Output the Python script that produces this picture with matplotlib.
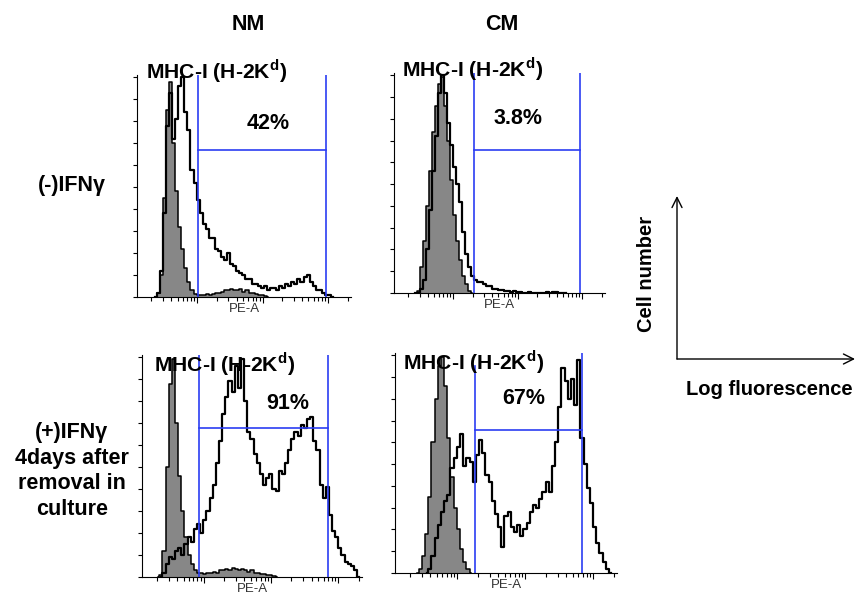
import numpy as np
import matplotlib.pyplot as plt

plt.rcParams['font.family'] = ['Liberation Sans', 'DejaVu Sans']

# histogram bins along log10(PE-A), equal spacing
bin_step = 0.0467

# top-left: NM, (-)IFNg
nm_neg_iso_start = 2.360
nm_neg_iso = [0, 2, 10, 45, 85, 98, 70, 48, 32, 22, 13, 7, 3, 1.5, 1, 1, 1, 1.5, 1, 1.5,
              2, 2, 2.5, 3, 3, 3.5, 3, 3, 3.5, 2.5, 3, 2, 2, 1.5, 1, 1, 0.5, 0]
nm_neg_start = 2.360
nm_neg = [0, 2, 12, 38, 78, 93, 72, 81, 96, 100, 84, 76, 58, 52, 44, 38, 33, 31, 27, 27,
          22, 21, 18, 17, 20, 15, 14, 12, 11, 10, 8, 8, 6, 6, 5, 4, 5, 3, 4, 4,
          3, 5, 4, 6, 5, 7, 6, 8, 7, 9, 10, 7, 5, 3, 3, 2, 1, 1, 0]

# top-right: CM, (-)IFNg
cm_neg_iso_start = 2.407
cm_neg_iso = [0, 1, 12, 24, 40, 56, 74, 86, 96, 99, 86, 70, 52, 36, 24, 15, 8, 4, 1, 0]
cm_neg_start = 2.407
cm_neg = [0, 0, 2, 6, 20, 38, 56, 72, 92, 100, 92, 78, 68, 58, 50, 42, 28, 18, 12, 8,
          6, 5, 5, 4, 3, 3, 2, 2, 1.5, 1.5, 1, 1, 0.5, 1, 0.5, 0.5, 0, 0, 0.5, 0,
          0, 0, 0, 0, 0.5, 0, 0.5, 0.5, 0, 0, 0]

# bottom-left: NM, (+)IFNg
nm_pos_iso_start = 2.314
nm_pos_iso = [0, 1, 12, 50, 88, 99, 70, 46, 30, 18, 10, 6, 3, 2, 2, 1.5, 2, 2, 2.5, 2,
              3, 3, 3.5, 3, 4, 3.5, 3, 3.5, 3, 2.5, 3, 2, 2, 1.5, 1.5, 1, 1, 0.5, 0]
nm_pos_start = 2.360
nm_pos = [0, 2, 6, 9, 8, 12, 13, 10, 15, 18, 16, 22, 24, 20, 26, 30, 36, 42, 52, 62,
          74, 82, 89, 84, 96, 86, 99, 80, 66, 63, 56, 52, 47, 42, 45, 47, 40, 39, 48, 47,
          52, 58, 63, 66, 64, 69, 68, 72, 73, 62, 58, 42, 36, 41, 28, 21, 18, 13, 10, 7,
          6, 5, 3, 0]

# bottom-right: CM, (+)IFNg
cm_pos_iso_start = 2.407
cm_pos_iso = [0, 2, 8, 18, 35, 60, 80, 95, 99, 86, 62, 44, 30, 20, 11, 5, 2, 0]
cm_pos_start = 2.547
cm_pos = [0, 2, 8, 16, 22, 28, 33, 36, 48, 53, 58, 64, 49, 53, 51, 42, 54, 61, 55, 45,
          42, 33, 27, 21, 12, 26, 28, 21, 19, 22, 17, 20, 23, 28, 31, 30, 34, 37, 42, 37,
          49, 60, 76, 94, 88, 80, 89, 77, 98, 62, 50, 39, 32, 21, 14, 9, 5, 2, 0]

# gates: (left, right, bar height) and percent positive
gates = [(3.005, 4.975, 67), (3.313, 4.966, 65.5), (2.930, 4.845, 67.6), (3.257, 4.835, 65.7)]
percents = ['42%', '3.8%', '91%', '67%']

col_labels = ['NM', 'CM']
row_labels = ['(-)IFNγ', '(+)IFNγ\n4days after\nremoval in\nculture']

W, H = 857, 596
fig = plt.figure(figsize=(W / 100, H / 100), dpi=100)


def box(l, r, b, t):
    return [l / W, 1 - b / H, (r - l) / W, (b - t) / H]


panels = [
    dict(rect=box(137, 351, 297, 75), iso=(nm_neg_iso_start, nm_neg_iso), smp=(nm_neg_start, nm_neg),
         pct_xy=(4.09, 79), title_xy=(3.30, 103), gate_top=(1.0, 1.0)),
    dict(rect=box(394, 605, 293, 73), iso=(cm_neg_iso_start, cm_neg_iso), smp=(cm_neg_start, cm_neg),
         pct_xy=(4.00, 80), title_xy=(3.30, 103), gate_top=(1.0, 1.0)),
    dict(rect=box(142, 362, 577, 355), iso=(nm_pos_iso_start, nm_pos_iso), smp=(nm_pos_start, nm_pos),
         pct_xy=(4.25, 79), title_xy=(3.30, 97), gate_top=(1.0, 1.0)),
    dict(rect=box(395, 617, 573, 353), iso=(cm_pos_iso_start, cm_pos_iso), smp=(cm_pos_start, cm_pos),
         pct_xy=(3.97, 80), title_xy=(3.24, 97), gate_top=(0.94, 1.0)),
]

xmin, xmax = 2.08, 5.35
major = [3, 4, 5]
minor = [d + np.log10(k) for d in range(2, 6) for k in range(2, 10)]
minor = [m for m in minor if xmin < m < xmax]

gate_color = '#2b3df2'

for i, p in enumerate(panels):
    ax = fig.add_axes(p['rect'])
    s0, iso = p['iso']
    x_iso = s0 + bin_step * np.arange(len(iso))
    ax.fill_between(x_iso, iso, step='mid', color='#878787', lw=0)
    ax.plot(x_iso, iso, drawstyle='steps-mid', color='black', lw=1.1)
    s1, smp = p['smp']
    x_smp = s1 + bin_step * np.arange(len(smp))
    ax.plot(x_smp, smp, drawstyle='steps-mid', color='black', lw=1.6)

    lo, hi, hbar = gates[i]
    ax.axvline(lo, ymin=0, ymax=p['gate_top'][0], color=gate_color, lw=1.2)
    ax.axvline(hi, ymin=0, ymax=p['gate_top'][1], color=gate_color, lw=1.2)
    ax.plot([lo, hi], [hbar, hbar], color=gate_color, lw=1.2)

    ax.text(*p['pct_xy'], percents[i], ha='center', va='center', fontsize=15.5, fontweight='bold')
    ax.text(*p['title_xy'], 'MHC-I (H-2K$^{\\mathregular{d}}$)', ha='center', va='center',
            fontsize=15.2, fontweight='bold', clip_on=False)

    ax.set_xlim(xmin, xmax)
    ax.set_ylim(0, 101)
    ax.set_xticks(major)
    ax.set_xticks(minor, minor=True)
    ax.set_yticks(np.arange(0, 101, 10))
    ax.tick_params(axis='both', which='both', direction='out', labelleft=False, labelbottom=False,
                   width=0.8)
    ax.tick_params(axis='x', which='major', length=4)
    ax.tick_params(axis='x', which='minor', length=3)
    ax.tick_params(axis='y', length=3)
    ax.spines['top'].set_visible(False)
    ax.spines['right'].set_visible(False)
    ax.set_xlabel('PE-A', fontsize=9.5, color='#333333', labelpad=0)
    ax.patch.set_alpha(0)

fig.text(248 / W, 1 - 24 / H, col_labels[0], ha='center', va='center', fontsize=15.5, fontweight='bold')
fig.text(502 / W, 1 - 24 / H, col_labels[1], ha='center', va='center', fontsize=15.5, fontweight='bold')
fig.text(72 / W, 1 - 185 / H, row_labels[0], ha='center', va='center', fontsize=15.5, fontweight='bold')
fig.text(72 / W, 1 - 471 / H, row_labels[1], ha='center', va='center', fontsize=15.5, fontweight='bold',
         linespacing=1.3)

# key: axis arrows
kax = fig.add_axes(box(677, 855, 359, 196))
kax.set_xlim(0, 1)
kax.set_ylim(0, 1)
kax.axis('off')
arrow = dict(arrowstyle='->', color='black', lw=1.0, mutation_scale=18, shrinkA=0, shrinkB=0)
kax.annotate('', xy=(0, 1), xytext=(0, 0), arrowprops=arrow)
kax.annotate('', xy=(1, 0), xytext=(0, 0), arrowprops=arrow)
kax.text(-0.17, 0.52, 'Cell number', rotation=90, ha='center', va='center', fontsize=14.5,
         fontweight='bold')
kax.text(0.52, -0.19, 'Log fluorescence', ha='center', va='center', fontsize=14.5, fontweight='bold')

fig.savefig('out.png', dpi=100)
